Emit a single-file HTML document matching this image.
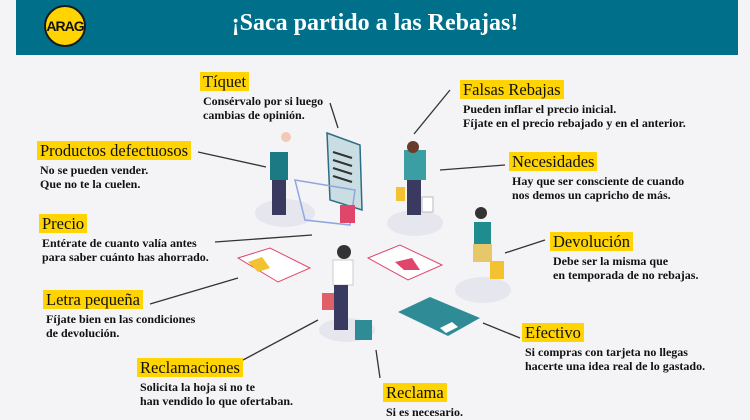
<!DOCTYPE html>
<html><head><meta charset="utf-8"><style>
body{margin:0;width:750px;height:420px;background:#f4f4f7;overflow:hidden;position:relative;font-family:"Liberation Serif",serif}
.hd{position:absolute;left:16px;top:0;width:722px;height:55px;background:#006f8a}
.logo{position:absolute;left:44px;top:5px;width:42px;height:42px;border-radius:50%;background:#ffd400;border:2px solid #1a1a1a;box-sizing:border-box;font:bold 14px "Liberation Sans",sans-serif;text-align:center;line-height:38px;color:#111;letter-spacing:-1px}
.tt{position:absolute;left:0;width:750px;top:10px;text-align:center;color:#fff;font:bold 24px "Liberation Serif",serif}
.l{position:absolute;color:#111}
.l b{display:inline-block;background:#ffd400;font-weight:normal;font-size:16.5px;padding:1px 3px;line-height:17px}
.l p{margin:2px 0 0 3px;font-size:12px;font-weight:bold;line-height:14px;white-space:nowrap}
svg{position:absolute;left:0;top:0}
</style></head><body>
<div class="hd"></div><div class="logo">ARAG</div>
<div class="tt">¡Saca partido a las Rebajas!</div>
<svg width="750" height="420">
<g stroke="#333" stroke-width="1.3">
<line x1="330" y1="103" x2="338" y2="128"/><line x1="450" y1="90" x2="414" y2="134"/>
<line x1="198" y1="152" x2="266" y2="167"/><line x1="440" y1="170" x2="505" y2="165"/>
<line x1="215" y1="242" x2="312" y2="235"/><line x1="505" y1="253" x2="545" y2="240"/>
<line x1="150" y1="304" x2="238" y2="278"/><line x1="483" y1="323" x2="520" y2="338"/>
<line x1="243" y1="360" x2="318" y2="320"/><line x1="376" y1="350" x2="380" y2="378"/>
</g>
<g fill="#e6e7ee"><ellipse cx="285" cy="213" rx="30" ry="14"/><ellipse cx="415" cy="223" rx="28" ry="13"/><ellipse cx="483" cy="290" rx="28" ry="13"/><ellipse cx="347" cy="330" rx="28" ry="12"/></g>
<polygon points="327,133 360,145 362,210 330,200" fill="#c9dde3" stroke="#2a6e86" stroke-width="1.5"/>
<g stroke="#333" stroke-width="2"><line x1="333" y1="152" x2="352" y2="158"/><line x1="333" y1="160" x2="352" y2="166"/><line x1="333" y1="168" x2="352" y2="174"/><line x1="333" y1="176" x2="352" y2="182"/></g>
<polygon points="295,180 355,190 350,225 305,220" fill="none" stroke="#8fa6de" stroke-width="1.5"/>
<rect x="340" y="205" width="15" height="18" fill="#e0456a"/>
<rect x="270" y="152" width="18" height="28" fill="#1c7a84"/><rect x="272" y="180" width="14" height="35" fill="#3a3a60"/>
<circle cx="286" cy="137" r="5" fill="#f3c9b5"/>
<rect x="404" y="150" width="22" height="30" fill="#3a9ea3"/><rect x="407" y="180" width="14" height="35" fill="#3a3a60"/><circle cx="413" cy="147" r="6" fill="#6a3a2a"/>
<rect x="396" y="187" width="9" height="14" fill="#f2c230"/><rect x="422" y="197" width="11" height="15" fill="#fff" stroke="#bbb"/>
<rect x="474" y="222" width="17" height="22" fill="#1f8c8f"/><rect x="473" y="244" width="19" height="18" fill="#e6c76a"/><circle cx="481" cy="213" r="6" fill="#333"/>
<rect x="490" y="261" width="14" height="18" fill="#f2c230"/>
<polygon points="238,258 270,248 310,268 278,282" fill="#fff" stroke="#e0456a"/><polygon points="248,262 262,257 270,268 258,272" fill="#f2c230"/>
<polygon points="368,258 400,245 442,265 408,280" fill="#fff" stroke="#e0456a"/><polygon points="395,262 412,258 420,270 404,270" fill="#e0456a"/>
<polygon points="398,312 430,297 480,318 448,336" fill="#2f8c96"/><polygon points="440,328 452,322 458,327 446,333" fill="#fff"/>
<rect x="333" y="260" width="20" height="25" fill="#fff" stroke="#ccc"/><rect x="334" y="285" width="14" height="45" fill="#3a3a60"/><circle cx="344" cy="252" r="7" fill="#333"/>
<rect x="322" y="293" width="12" height="17" fill="#e0606a"/><rect x="355" y="320" width="17" height="20" fill="#2f8c96"/>
</svg>
<div class="l" style="left:200px;top:72px"><b>Tíquet</b><p>Consérvalo por si luego<br>cambias de opinión.</p></div>
<div class="l" style="left:460px;top:80px"><b>Falsas Rebajas</b><p>Pueden inflar el precio inicial.<br>Fíjate en el precio rebajado y en el anterior.</p></div>
<div class="l" style="left:37px;top:141px"><b>Productos defectuosos</b><p>No se pueden vender.<br>Que no te la cuelen.</p></div>
<div class="l" style="left:509px;top:152px"><b>Necesidades</b><p>Hay que ser consciente de cuando<br>nos demos un capricho de más.</p></div>
<div class="l" style="left:39px;top:214px"><b>Precio</b><p>Entérate de cuanto valía antes<br>para saber cuánto has ahorrado.</p></div>
<div class="l" style="left:550px;top:232px"><b>Devolución</b><p>Debe ser la misma que<br>en temporada de no rebajas.</p></div>
<div class="l" style="left:43px;top:290px"><b>Letra pequeña</b><p>Fíjate bien en las condiciones<br>de devolución.</p></div>
<div class="l" style="left:522px;top:323px"><b>Efectivo</b><p>Si compras con tarjeta no llegas<br>hacerte una idea real de lo gastado.</p></div>
<div class="l" style="left:137px;top:358px"><b>Reclamaciones</b><p>Solicita la hoja si no te<br>han vendido lo que ofertaban.</p></div>
<div class="l" style="left:383px;top:383px"><b>Reclama</b><p>Si es necesario.</p></div>
</body></html>
